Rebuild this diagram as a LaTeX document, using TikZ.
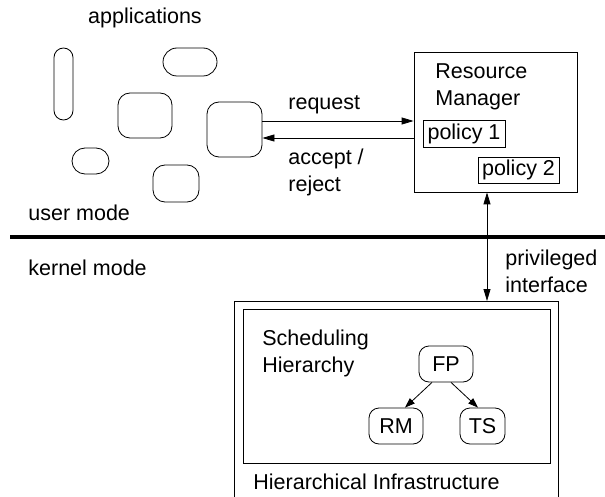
\documentclass[tikz,border=0pt]{standalone}
\usepackage{fontspec}
\setmainfont{Liberation Sans}
\usetikzlibrary{arrows.meta}
\begin{document}
\begin{tikzpicture}[x=1pt,y=-1pt,line width=0.8pt,
  every node/.style={font=\fontsize{21.5pt}{27pt}\selectfont},
  txt/.style={inner sep=0pt,anchor=west,align=left},
  appshape/.style={draw,inner sep=0pt},
  boxed/.style={draw,inner sep=0pt},
  arr/.style={-{Triangle[length=12pt,width=7pt]}},
  darr/.style={{Triangle[length=12pt,width=7pt]}-{Triangle[length=12pt,width=7pt]}},
  tarr/.style={-{Triangle[length=10pt,width=7pt]}},
  sched/.style={draw,rounded corners=10pt,inner sep=0pt,minimum height=36pt}]
\useasboundingbox (0,0) rectangle (605,497);

% applications
\node[inner sep=0pt] (apptitle) at (145,18) {applications};
\node[appshape,minimum width=19pt,minimum height=72pt,rounded corners=9.5pt] (a1) at (63.5,84) {};
\node[appshape,minimum width=54pt,minimum height=28pt,rounded corners=14pt] (a2) at (190,62) {};
\node[appshape,minimum width=54pt,minimum height=45pt,rounded corners=12pt] (a3) at (145,115.5) {};
\node[appshape,minimum width=55pt,minimum height=55pt,rounded corners=12pt] (app) at (234.5,129.5) {};
\node[appshape,minimum width=37pt,minimum height=26pt,rounded corners=13pt] (a5) at (90.5,161) {};
\node[appshape,minimum width=46pt,minimum height=37pt,rounded corners=12pt] (a6) at (176,183.5) {};

% resource manager
\node[boxed,minimum width=163pt,minimum height=140pt] (rm) at (495.5,122) {};
\node[txt] (rmlabel) at (435,86.5) {Resource\\Manager};
\node[boxed,minimum width=82pt,minimum height=27pt] (p1) at (464,133.5) {policy 1};
\node[boxed,minimum width=81pt,minimum height=26pt] (p2) at (518.5,170) {policy 2};

% request / accept arrows
\coordinate (yreq) at (0,121);
\coordinate (yacc) at (0,138);
\draw[arr] (app.east |- yreq) -- (rm.west |- yreq);
\draw[arr] (rm.west |- yacc) -- (app.east |- yacc);
\node[txt] (reqlabel) at (288,105) {request};
\node[txt] (acclabel) at (288,172) {accept /\\reject};

% mode separator
\coordinate (sepL) at (10,237);
\coordinate (sepR) at (605,237);
\draw[line width=4pt] (sepL) -- (sepR);
\node[txt] (user) at (28,213) {user mode};
\node[txt] (kernel) at (28,268) {kernel mode};

% privileged interface
\coordinate (vx) at (487,0);
\coordinate (infratop) at (487,301);
\draw[darr] (rm.south -| vx) -- (infratop);
\node[txt] (privlabel) at (505,271.5) {privileged\\interface};

% infrastructure
\draw (234,497) -- (234,301) -- (558,301) -- (558,497);
\node[txt] (infralabel) at (253,482) {Hierarchical Infrastructure};
\node[boxed,minimum width=307pt,minimum height=154pt] (hier) at (396.5,386) {};
\node[txt] (hierlabel) at (262,353) {Scheduling\\Hierarchy};

\node[sched,minimum width=54pt] (fp) at (446,364) {FP};
\node[sched,minimum width=54pt] (rmn) at (396,426) {RM};
\node[sched,minimum width=45pt] (ts) at (482.5,426) {TS};
\draw[tarr] ([xshift=-14pt]fp.south) -- ([xshift=9pt]rmn.north);
\draw[tarr] ([xshift=5pt]fp.south) -- ([xshift=-4.5pt]ts.north);
\end{tikzpicture}
\end{document}
